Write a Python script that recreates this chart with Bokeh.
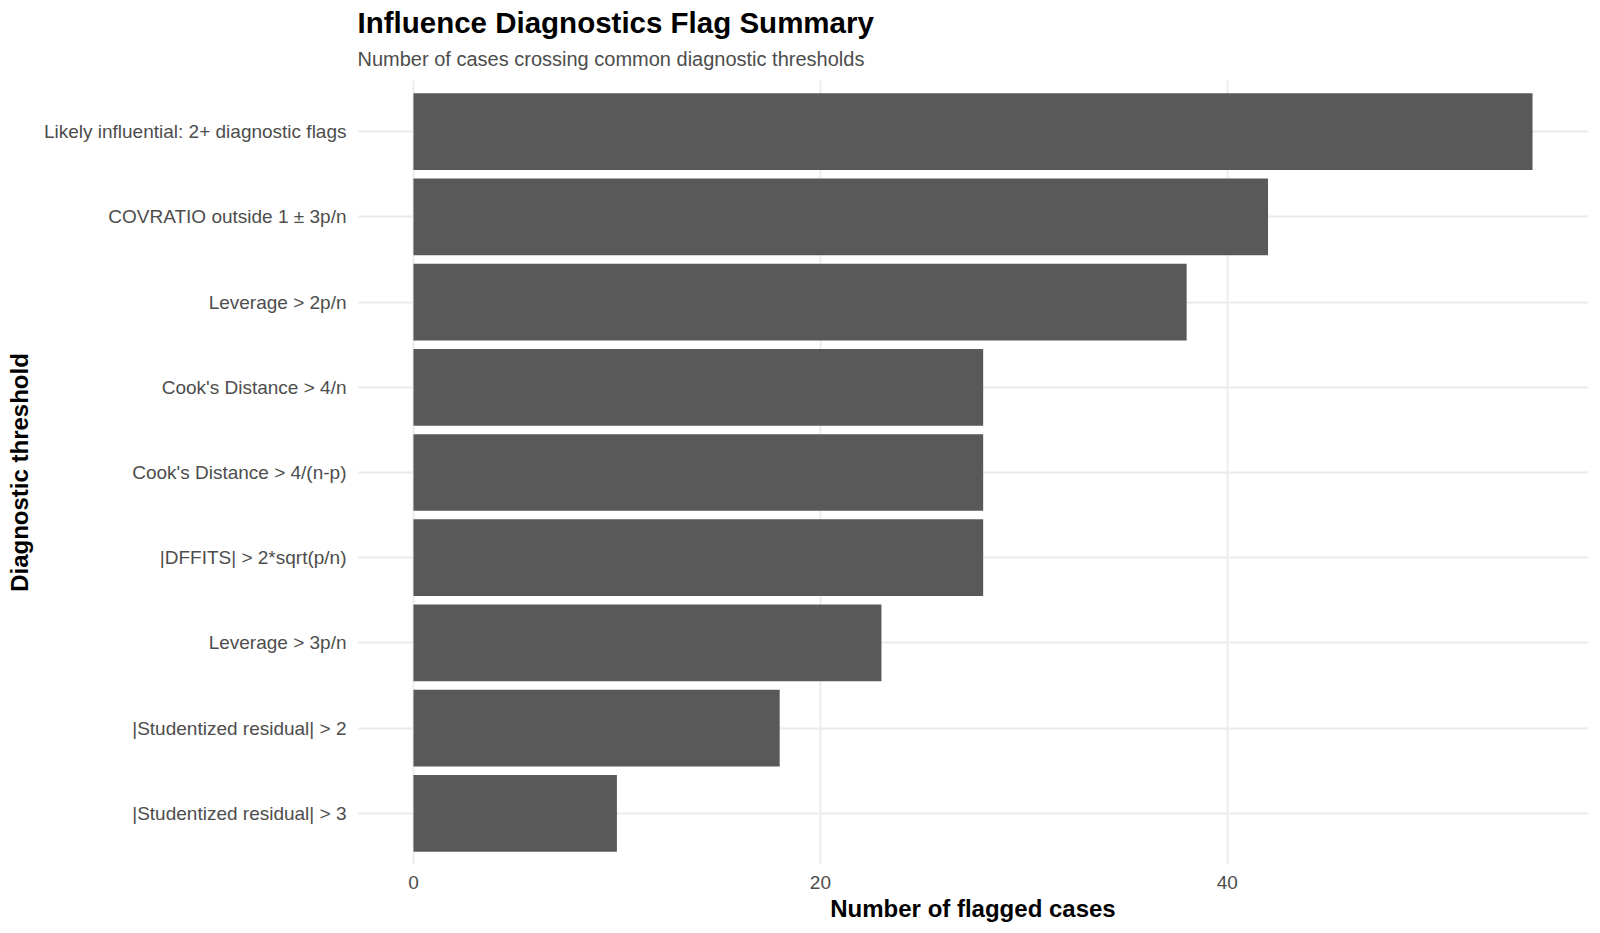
from bokeh.plotting import figure
from bokeh.models import Range1d, FactorRange, FixedTicker, Title, ColumnDataSource
from bokeh.embed import file_html
from bokeh.resources import INLINE

# ---- data ----
categories = [
    "Likely influential: 2+ diagnostic flags",
    "COVRATIO outside 1 \u00b1 3p/n",
    "Leverage > 2p/n",
    "Cook's Distance > 4/n",
    "Cook's Distance > 4/(n-p)",
    "|DFFITS| > 2*sqrt(p/n)",
    "Leverage > 3p/n",
    "|Studentized residual| > 2",
    "|Studentized residual| > 3",
]
counts = [55, 42, 38, 28, 28, 28, 23, 18, 10]
x_ticks = [0, 20, 40]

title_text = "Influence Diagnostics Flag Summary"
subtitle_text = "Number of cases crossing common diagnostic thresholds"
x_label = "Number of flagged cases"
y_label = "Diagnostic threshold"

FONT = "Liberation Sans"

src = ColumnDataSource(dict(cat=categories, n=counts))

y_range = FactorRange(factors=categories[::-1], range_padding=0.1,
                      range_padding_units="absolute")
x_range = Range1d(-0.05 * max(counts), max(counts) * 1.05)

p = figure(width=1600, height=933, y_range=y_range, x_range=x_range,
           output_backend="svg", toolbar_location=None, title=None,
           min_border_left=357, min_border_right=12, min_border_top=80,
           min_border_bottom=69)
p.outline_line_color = None
p.background_fill_color = "white"
p.border_fill_color = "white"

p.hbar(y="cat", right="n", left=0, height=0.9, source=src,
       fill_color="#595959", line_color=None)

# grids
p.xgrid.ticker = FixedTicker(ticks=x_ticks)
p.xgrid.grid_line_color = "#EBEBEB"
p.xgrid.grid_line_width = 1.8
p.ygrid.grid_line_color = "#EBEBEB"
p.ygrid.grid_line_width = 1.8

# axes
for ax in (p.xaxis[0], p.yaxis[0]):
    ax.axis_line_color = None
    ax.major_tick_line_color = None
    ax.minor_tick_line_color = None
    ax.major_tick_in = 0
    ax.major_tick_out = 0
    ax.minor_tick_in = 0
    ax.minor_tick_out = 0
    ax.major_label_text_font = FONT
    ax.major_label_text_font_size = "19px"
    ax.major_label_text_color = "#4D4D4D"
    ax.axis_label_text_font = FONT
    ax.axis_label_text_font_size = "24px"
    ax.axis_label_text_font_style = "bold"
    ax.axis_label_text_color = "black"

p.xaxis.ticker = FixedTicker(ticks=x_ticks)
p.xaxis.axis_label = x_label
p.xaxis.major_label_standoff = 11
p.xaxis.axis_label_standoff = 3

p.yaxis.axis_label = y_label
p.yaxis.major_label_standoff = 11
p.yaxis.axis_label_standoff = 8

# titles (first added is closest to the frame)
p.add_layout(Title(text=subtitle_text, align="left", text_font=FONT,
                   text_font_size="20px", text_font_style="normal",
                   text_color="#4D4D4D", standoff=22), "above")
p.add_layout(Title(text=title_text, align="left", text_font=FONT,
                   text_font_size="29.5px", text_font_style="bold",
                   text_color="black", standoff=-8), "above")

open("out.html", "w").write(file_html(p, INLINE))
